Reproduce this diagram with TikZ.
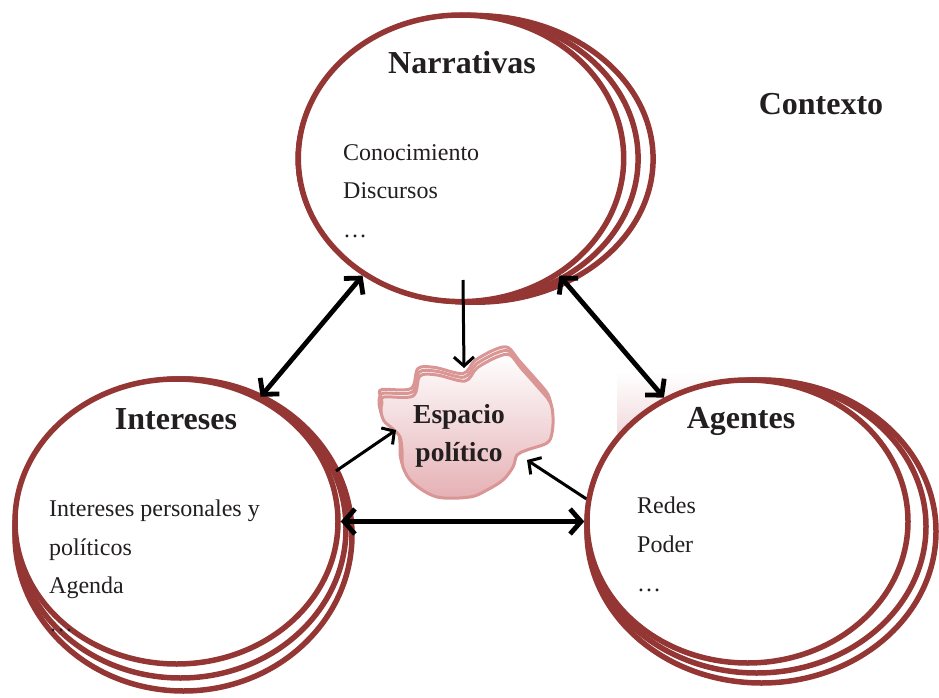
\documentclass[tikz,border=0pt]{standalone}
\usepackage{fontspec}
\setmainfont{Liberation Serif}
\usetikzlibrary{shapes.geometric,arrows.meta}
\definecolor{ringred}{RGB}{148,54,52}
\definecolor{blobline}{RGB}{217,150,148}
\definecolor{blobfill}{RGB}{229,176,180}
\definecolor{inktext}{RGB}{35,31,32}
\definecolor{faintpink}{RGB}{234,196,201}
\tikzset{
  ring/.style={draw=ringred, line width=5.5pt},
  frontring/.style={ellipse, ring, fill=white, inner sep=0pt, outer sep=2.75pt},
  title/.style={font=\fontsize{32}{38}\selectfont\bfseries, text=inktext, inner sep=0pt, anchor=base},
  body/.style={font=\fontsize{24}{39}\selectfont, text=inktext, inner sep=0pt, anchor=base west},
  blobtext/.style={font=\fontsize{27.5}{38}\selectfont\bfseries, text=inktext, inner sep=0pt, anchor=base},
  dbl/.style={line width=4.8pt, draw=black, {Straight Barb[length=11pt,width=25pt]}-{Straight Barb[length=11pt,width=25pt]}},
  sgl/.style={line width=3pt, draw=black, -{Straight Barb[length=9pt,width=20pt]}},
  blobedge/.style={draw=blobline, line width=3pt, line join=round},
}
\begin{document}
\begin{tikzpicture}[x=1pt,y=-1pt]
\useasboundingbox (0,0) rectangle (939,698);

% faint shaded patch behind Agentes
\shade[top color=white, bottom color=faintpink] (617,372) rectangle (795,470);

% ---------- Narrativas ----------
\node[frontring, minimum width=325.4pt, minimum height=286.6pt] (N) at (461,158.3) {};
\node[title] (Nt) at (462,74) {Narrativas};
\node[body] (N1) at (343,160) {Conocimiento};
\node[body] (N2) at (343,198.5) {Discursos};
\node[body] (N3) at (343,237) {\ldots};
\begin{scope}[even odd rule]
  \clip (-10,-10) rectangle (950,710) (461,158.3) ellipse [x radius=162.7pt, y radius=143.3pt];
  \draw[ring] (468.2,158.6) ellipse [x radius=169.9pt, y radius=143.3pt];
  \draw[ring] (475.7,158.9) ellipse [x radius=177.4pt, y radius=143.3pt];
\end{scope}

% ---------- Intereses ----------
\node[frontring, minimum width=323pt, minimum height=285pt] (I) at (176.5,521.5) {};
\node[title] (It) at (176,429) {Intereses};
\node[body] (I1) at (49,516) {Intereses personales y};
\node[body] (I2) at (49,555) {políticos};
\node[body] (I3) at (49,593) {Agenda};
\begin{scope}[even odd rule]
  \clip (-10,-10) rectangle (950,710) (176.5,521.5) ellipse [x radius=161.5pt, y radius=142.5pt];
  \draw[ring] (180.5,528.5) ellipse [x radius=165.5pt, y radius=149.5pt];
  \draw[ring] (183.5,535) ellipse [x radius=168.5pt, y radius=156pt];
\end{scope}
\node[body] (I4) at (49,631) {\ldots};

% ---------- Agentes ----------
\node[frontring, minimum width=321pt, minimum height=283pt] (A) at (747.5,521.5) {};
\node[title] (At) at (741,428) {Agentes};
\node[body] (A1) at (637,513) {Redes};
\node[body] (A2) at (637,552) {Poder};
\node[body] (A3) at (637,591) {\ldots};
\begin{scope}[even odd rule]
  \clip (-10,-10) rectangle (950,710) (747.5,521.5) ellipse [x radius=160.5pt, y radius=141.5pt];
  \draw[ring] (756.5,526.5) ellipse [x radius=169.5pt, y radius=146.5pt];
  \draw[ring] (761.5,531.5) ellipse [x radius=174.5pt, y radius=151.5pt];
\end{scope}

% ---------- Contexto ----------
\node[title] (C) at (821,115) {Contexto};

% ---------- Espacio politico (blob) ----------
\def\blobpath{plot[smooth cycle, tension=0.55] coordinates {
  (384,397) (413,396) (420,376) (437,375) (465,381) (477,368) (497,357) (510,355)
  (521,368) (537,386) (550,402) (553,417) (552,433) (547,443) (527,450) (517,455)
  (513,467) (503,480) (487,490) (470,497) (437,497) (413,483) (403,467) (402,450)
  (400,437) (393,429) (384,421) (381,411) (382,403)}}
\draw[blobedge, fill=white, shift={(-2,-7.5)}] \blobpath;
\draw[blobedge, fill=white, shift={(-1,-3.8)}] \blobpath;
\draw[blobedge, top color=white, bottom color=blobfill] \blobpath;
\node[blobtext] (E1) at (459,423) {Espacio};
\node[blobtext] (E2) at (459,461) {político};
\coordinate (Etop) at (464,368);
\coordinate (Eleft) at (396,430);
\coordinate (Eright) at (527,460);
\coordinate (Nfoot) at (463,280);
\coordinate (Ifoot) at (336,471);

% ---------- connectors ----------
\draw[dbl] (N.230) -- (I.56);
\draw[dbl] (N.310) -- (A.124);
\draw[dbl] (I.east) -- (A.west);
\draw[sgl] (Nfoot) -- (Etop);
\draw[sgl] (Ifoot) -- (Eleft);
\draw[sgl] (A.172) -- (Eright);
\end{tikzpicture}
\end{document}
